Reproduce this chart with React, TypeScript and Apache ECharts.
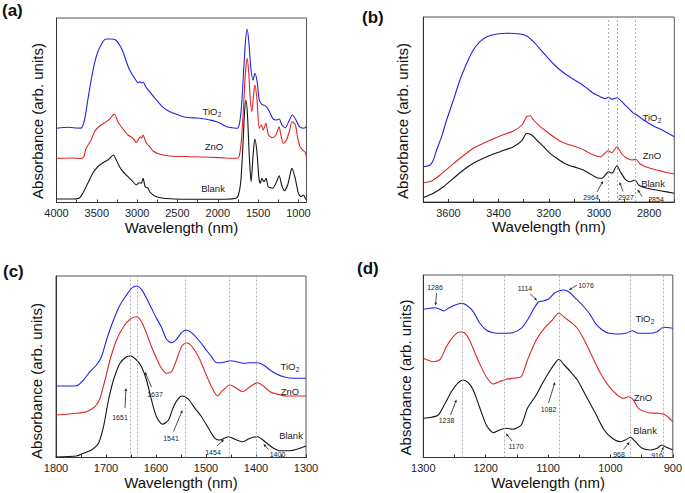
import React, { useEffect, useRef } from "react";
import * as echarts from "echarts";

const FONT = "'Liberation Sans', Arial, Helvetica, sans-serif";
const BLUE = "#2323e0";
const RED = "#e02525";
const BLACK = "#141414";

// ---------- Panel (a): full spectra, [wavelength, absorbance (arb.)] ----------
const aTiO2 = [
  [4000, 74.2], [3850, 75.2], [3750, 74.5], [3695, 74.4], [3653, 82.5], [3612, 102.5], [3570, 122.5],
  [3529, 139.2], [3487, 150.8], [3425, 160.8], [3384, 163.5], [3321, 163.5], [3267, 162.5], [3218, 157.5],
  [3176, 150.8], [3134, 140.8], [3093, 132.5], [3031, 124.2], [2989, 119.8], [2964, 120.8], [2945, 119.5],
  [2927, 120.5], [2894, 115.8], [2844, 110.8], [2761, 102.5], [2678, 95.2], [2595, 90.8], [2512, 88.2],
  [2429, 85.8], [2346, 84.8], [2263, 84.5], [2180, 83.8], [2097, 82.5], [2014, 80.8], [1931, 77.5],
  [1889, 75.8], [1819, 74.8], [1756, 74.2], [1727, 80.8], [1702, 100.8], [1675, 137.5], [1657, 160.8],
  [1637, 173.5], [1615, 160.8], [1590, 134.2], [1562, 122.5], [1541, 129.2], [1512, 120.8], [1486, 102.5],
  [1454, 98.2], [1412, 96.8], [1370, 92.5], [1320, 84.2], [1279, 82.5], [1238, 83.5], [1204, 77.5],
  [1163, 74.8], [1121, 80.8], [1076, 87.5], [1030, 82.5], [988, 75.8], [939, 74.2], [900, 75.8]
];
const aZnO = [
  [4000, 44.2], [3800, 44.5], [3700, 44.0], [3660, 46.0], [3633, 54.2], [3570, 62.5], [3529, 70.8],
  [3466, 76.5], [3404, 79.8], [3342, 83.2], [3300, 87.5], [3280, 88.2], [3238, 80.8], [3197, 75.8],
  [3155, 71.5], [3114, 67.5], [3052, 64.2], [3010, 59.8], [2989, 62.5], [2964, 65.8], [2945, 64.2],
  [2927, 67.5], [2894, 60.8], [2865, 57.5], [2844, 55.8], [2802, 51.5], [2720, 48.2], [2595, 46.5],
  [2346, 45.8], [2097, 45.2], [1900, 44.5], [1756, 44.2], [1727, 49.2], [1702, 67.5], [1675, 104.2],
  [1656, 130.8], [1637, 144.2], [1617, 130.8], [1598, 104.2], [1578, 90.8], [1556, 107.5], [1541, 117.5],
  [1515, 104.2], [1486, 74.2], [1460, 77.5], [1436, 72.5], [1404, 79.2], [1370, 67.5], [1320, 64.8],
  [1279, 67.5], [1240, 75.8], [1217, 67.5], [1188, 59.2], [1154, 61.5], [1113, 70.8], [1080, 80.8],
  [1038, 77.5], [1009, 64.2], [980, 55.8], [947, 52.5], [915, 50.2], [900, 45.0]
];
const aBlank = [
  [4000, 3.5], [3800, 3.5], [3716, 4.5], [3674, 9.2], [3612, 19.2], [3550, 29.2], [3487, 35.8],
  [3425, 39.8], [3363, 42.5], [3321, 45.8], [3292, 47.5], [3259, 42.5], [3218, 35.8], [3176, 30.8],
  [3114, 25.8], [3052, 20.8], [3010, 17.5], [2976, 19.8], [2948, 19.2], [2927, 24.2], [2900, 15.8],
  [2865, 14.2], [2836, 9.8], [2761, 5.8], [2595, 3.8], [2263, 3.2], [1900, 3.3], [1777, 4.2],
  [1744, 7.5], [1715, 20.8], [1690, 54.2], [1668, 90.8], [1651, 102.5], [1632, 87.5], [1610, 47.5],
  [1587, 20.8], [1562, 47.5], [1541, 63.5], [1515, 50.8], [1490, 24.2], [1472, 19.2], [1454, 24.2],
  [1428, 20.8], [1400, 24.2], [1375, 15.8], [1320, 14.2], [1271, 20.8], [1238, 26.8], [1208, 17.5],
  [1175, 11.8], [1134, 17.5], [1100, 29.2], [1082, 34.2], [1040, 24.2], [1000, 9.2], [968, 5.8],
  [939, 7.5], [914, 4.2], [900, 2.5]
];

// ---------- Panel (b): 3700-2700 ----------
const bTiO2 = [
  [3697, 35.3], [3673, 37.0], [3660, 42.0], [3647, 52.0], [3627, 65.3], [3607, 82.0], [3580, 102.0],
  [3554, 122.0], [3527, 138.7], [3501, 152.0], [3474, 160.3], [3447, 165.3], [3407, 168.0], [3367, 168.7],
  [3314, 168.0], [3288, 166.0], [3261, 160.3], [3234, 152.7], [3208, 145.3], [3181, 138.0], [3155, 132.0],
  [3128, 127.0], [3102, 122.7], [3075, 118.7], [3048, 113.7], [3022, 108.7], [2995, 105.3], [2975, 103.3],
  [2962, 104.7], [2949, 102.7], [2929, 104.3], [2909, 100.3], [2889, 95.3], [2862, 88.7], [2849, 87.0],
  [2822, 82.0], [2783, 76.0], [2743, 71.3], [2700, 65.3]
];
const bZnO = [
  [3697, 19.3], [3667, 21.0], [3633, 27.0], [3594, 35.3], [3554, 43.7], [3501, 53.7], [3447, 60.3],
  [3394, 66.0], [3341, 71.0], [3307, 77.0], [3288, 85.3], [3274, 86.3], [3261, 82.0], [3234, 75.3],
  [3208, 70.3], [3181, 65.3], [3155, 61.0], [3128, 58.0], [3102, 56.0], [3075, 53.7], [3048, 50.3],
  [3022, 47.0], [2995, 45.3], [2979, 48.0], [2964, 51.3], [2949, 49.3], [2929, 55.3], [2909, 48.0],
  [2889, 43.7], [2869, 42.0], [2853, 42.7], [2836, 38.0], [2796, 33.7], [2743, 30.3], [2700, 28.0]
];
const bBlank = [
  [3697, 4.7], [3660, 8.7], [3620, 15.3], [3580, 23.7], [3540, 32.0], [3501, 38.7], [3447, 45.3],
  [3394, 50.3], [3341, 55.3], [3307, 61.3], [3288, 68.7], [3268, 67.0], [3248, 62.0], [3221, 55.3],
  [3195, 48.7], [3168, 43.7], [3142, 39.3], [3115, 36.3], [3088, 34.3], [3062, 32.0], [3035, 28.0],
  [3008, 24.3], [2988, 23.7], [2975, 27.0], [2962, 30.3], [2949, 28.7], [2929, 36.3], [2915, 30.3],
  [2895, 22.7], [2876, 20.3], [2856, 22.0], [2842, 17.0], [2809, 13.7], [2756, 11.3], [2700, 8.7]
];

// ---------- Panel (c): 1800-1300 ----------
const cTiO2 = [
  [1800, 71.5], [1759, 71.8], [1745, 77.5], [1732, 85.8], [1719, 92.5], [1709, 100.8], [1699, 117.5],
  [1685, 137.5], [1672, 152.5], [1659, 162.5], [1649, 169.2], [1639, 171.5], [1629, 168.2], [1619, 159.2],
  [1609, 149.2], [1599, 139.2], [1589, 130.2], [1579, 118.2], [1569, 114.8], [1559, 118.2], [1549, 124.8],
  [1539, 127.5], [1529, 124.8], [1515, 117.5], [1502, 109.2], [1489, 100.8], [1479, 94.8], [1469, 94.8],
  [1452, 96.8], [1439, 95.8], [1425, 94.2], [1412, 94.8], [1399, 94.8], [1385, 92.5], [1372, 87.5],
  [1359, 83.5], [1345, 80.8], [1325, 79.2], [1300, 79.2]
];
const cZnO = [
  [1800, 42.5], [1759, 44.2], [1739, 45.8], [1722, 50.8], [1712, 59.2], [1702, 77.5], [1692, 97.5],
  [1679, 117.5], [1665, 130.8], [1652, 138.2], [1639, 140.8], [1629, 135.8], [1619, 124.2], [1609, 110.8],
  [1599, 99.2], [1589, 89.2], [1579, 84.2], [1569, 85.8], [1559, 97.5], [1549, 110.8], [1539, 114.8],
  [1529, 111.5], [1515, 100.8], [1502, 85.8], [1489, 70.8], [1477, 61.5], [1469, 65.8], [1452, 72.5],
  [1439, 69.2], [1427, 65.8], [1412, 70.8], [1397, 74.8], [1385, 71.5], [1372, 65.8], [1359, 63.5],
  [1339, 61.5], [1300, 61.5]
];
const cBlank = [
  [1800, 0.5], [1759, 1.5], [1745, 4.2], [1729, 7.5], [1715, 14.2], [1705, 30.8], [1695, 57.5],
  [1685, 77.5], [1672, 94.2], [1659, 100.8], [1651, 101.5], [1639, 97.5], [1629, 90.8], [1619, 77.5],
  [1609, 57.5], [1599, 40.8], [1587, 33.2], [1575, 37.5], [1565, 50.8], [1555, 59.2], [1547, 61.5],
  [1535, 58.2], [1522, 49.2], [1509, 40.8], [1495, 29.2], [1482, 19.2], [1472, 17.5], [1455, 20.8],
  [1442, 18.2], [1427, 15.8], [1412, 19.2], [1397, 20.8], [1382, 15.8], [1365, 9.2], [1352, 6.8],
  [1332, 6.8], [1300, 11.5]
];

// ---------- Panel (d): 1300-900 ----------
const dTiO2 = [
  [1300, 148.2], [1289, 149.2], [1281, 149.8], [1273, 148.2], [1267, 146.5], [1260, 149.2], [1249, 152.5],
  [1239, 154.2], [1231, 152.5], [1220, 145.8], [1210, 134.8], [1199, 127.5], [1188, 124.8], [1173, 124.2],
  [1157, 124.8], [1143, 129.2], [1133, 137.5], [1122, 149.8], [1115, 155.8], [1108, 156.5], [1099, 158.5],
  [1090, 164.2], [1082, 166.8], [1074, 167.5], [1066, 165.2], [1056, 159.2], [1045, 152.5], [1034, 144.2],
  [1024, 134.2], [1013, 127.5], [1002, 124.2], [987, 123.5], [975, 124.2], [965, 126.8], [955, 124.2],
  [939, 124.2], [925, 125.8], [915, 130.2], [900, 129.2]
];
const dZnO = [
  [1300, 99.2], [1284, 95.8], [1273, 98.2], [1263, 110.8], [1252, 120.8], [1242, 125.5], [1234, 124.8],
  [1226, 117.5], [1218, 105.8], [1210, 94.2], [1199, 80.8], [1188, 73.5], [1178, 75.8], [1167, 78.2],
  [1157, 79.2], [1143, 80.8], [1133, 97.5], [1119, 117.5], [1106, 129.2], [1093, 137.5], [1083, 144.2],
  [1072, 139.2], [1061, 134.2], [1053, 129.2], [1042, 117.5], [1029, 100.8], [1016, 84.2], [1002, 70.8],
  [989, 62.5], [979, 59.2], [971, 60.8], [964, 58.2], [955, 49.2], [939, 44.8], [923, 44.2], [912, 42.5],
  [900, 35.8]
];
const dBlank = [
  [1300, 39.2], [1287, 40.2], [1276, 42.5], [1265, 54.2], [1255, 65.8], [1244, 74.8], [1236, 77.5],
  [1228, 74.8], [1220, 67.5], [1210, 50.8], [1199, 32.5], [1188, 24.8], [1178, 27.5], [1167, 29.2],
  [1157, 28.2], [1143, 32.5], [1133, 49.2], [1119, 62.5], [1109, 74.2], [1098, 85.8], [1087, 95.8],
  [1083, 98.2], [1074, 92.5], [1064, 85.8], [1053, 77.5], [1040, 62.5], [1024, 44.2], [1010, 27.5],
  [997, 19.2], [984, 15.8], [976, 17.5], [968, 20.2], [960, 15.8], [949, 9.2], [936, 7.5], [925, 9.2],
  [918, 12.5], [910, 10.2], [900, 7.5]
];

// ---------- ticks and marked peaks ----------
const aLabels = [1000, 1500, 2000, 2500, 3000, 3500, 4000];
const aTicks = [1000, 1250, 1500, 1750, 2000, 2250, 2500, 2750, 3000, 3250, 3500, 3750, 4000];
const bLabels = [2800, 3000, 3200, 3400, 3600];
const bTicks = [2700, 2800, 2900, 3000, 3100, 3200, 3300, 3400, 3500, 3600, 3700];
const cLabels = [1300, 1400, 1500, 1600, 1700, 1800];
const cTicks = [1300, 1350, 1400, 1450, 1500, 1550, 1600, 1650, 1700, 1750, 1800];
const dLabels = [900, 1000, 1100, 1200, 1300];
const dTicks = [900, 950, 1000, 1050, 1100, 1150, 1200, 1250, 1300];

const bPeaks = [2964, 2927, 2854];
const cPeaks = [1651, 1637, 1541, 1454, 1400];
const dPeaks = [1238, 1170, 1082, 968, 916];
const dTiO2Peaks = [1286, 1114, 1076];

const sampleNames = ["TiO2", "ZnO", "Blank"];
const sampleColors = [BLUE, RED, BLACK];

// ---------- layout ----------
const panels = [
  { letter: "(a)", grid: { left: 56.5, top: 18, width: 250, height: 184.5 }, min: 900, max: 4000, ymax: 184.5,
    labels: aLabels, ticks: aTicks, data: [aTiO2, aZnO, aBlank], peaks: [] as number[],
    letterPos: [2, 10], yName: [37, 121], names: [[212, 111], [214, 146], [213, 188.5]] },
  { letter: "(b)", grid: { left: 423.3, top: 17, width: 251, height: 185 }, min: 2700, max: 3700, ymax: 185,
    labels: bLabels, ticks: bTicks, data: [bTiO2, bZnO, bBlank], peaks: bPeaks,
    letterPos: [362, 17.5], yName: [402, 121], names: [[652, 117], [652, 155], [653, 183]] },
  { letter: "(c)", grid: { left: 56, top: 276, width: 250, height: 181.5 }, min: 1300, max: 1800, ymax: 181.5,
    labels: cLabels, ticks: cTicks, data: [cTiO2, cZnO, cBlank], peaks: cPeaks,
    letterPos: [3, 271], yName: [36.7, 381], names: [[290, 366], [290, 391], [291, 435]] },
  { letter: "(d)", grid: { left: 423.3, top: 275, width: 251, height: 182.5 }, min: 900, max: 1300, ymax: 182.5,
    labels: dLabels, ticks: dTicks, data: [dTiO2, dZnO, dBlank], peaks: dPeaks,
    letterPos: [357, 268], yName: [405, 377.5], names: [[645, 318], [643, 397], [645, 430]] },
];

// annotation layout: [label value, text x, text y, arrow from x, y, arrow to x, y]
const annotations: number[][] = [
  [bPeaks[0], 591, 197, 597, 192, 603, 181],
  [bPeaks[1], 626, 197, 623, 191.5, 619.5, 182],
  [bPeaks[2], 656, 199.5, 642, 196.5, 637.5, 189.5],
  [cPeaks[0], 120, 417.5, 125, 408, 126, 388],
  [cPeaks[1], 155, 394, 151.5, 387, 145, 372],
  [cPeaks[2], 171, 438.5, 173.5, 431.5, 182.5, 410],
  [cPeaks[3], 213, 452, 217, 446, 224, 439.5],
  [cPeaks[4], 277.5, 454.5, 268.5, 449.5, 263.5, 444],
  [dTiO2Peaks[0], 435, 287.5, 436.5, 293, 435.5, 305.5],
  [dTiO2Peaks[1], 525, 288.5, 530, 293.5, 537, 300.5],
  [dTiO2Peaks[2], 586, 285, 577, 285, 569, 290],
  [dPeaks[0], 446.5, 420, 450.5, 415, 456.5, 399.5],
  [dPeaks[2], 548.5, 409, 548.5, 403, 555, 382],
  [dPeaks[1], 516, 446.5, 512, 441, 506, 433.5],
  [dPeaks[3], 619, 454, 623.5, 449.5, 629.5, 442],
  [dPeaks[4], 657, 455, 661, 452.5, 664, 446.5],
];

function arrow(x1: number, y1: number, x2: number, y2: number) {
  const dx = x2 - x1, dy = y2 - y1;
  const L = Math.hypot(dx, dy) || 1;
  const ux = dx / L, uy = dy / L;
  const h = 3, w = 1.4;
  const bx = x2 - ux * h, by = y2 - uy * h;
  return [
    { type: "line", silent: true, shape: { x1, y1, x2: bx, y2: by }, style: { stroke: "#222", lineWidth: 0.8 } },
    { type: "polygon", silent: true, shape: { points: [[x2, y2], [bx - uy * w, by + ux * w], [bx + uy * w, by - ux * w]] }, style: { fill: "#222" } },
  ];
}

function sampleLabel(name: string, cx: number, cy: number) {
  const fs = 9.5;
  if (name === "TiO2") {
    const w = 15.3;
    const x0 = cx - 9.5;
    return [
      { type: "text", silent: true, x: x0, y: cy, style: { text: "TiO", fontSize: fs, fontFamily: FONT, fill: "#222", align: "left", verticalAlign: "middle" } },
      { type: "text", silent: true, x: x0 + w, y: cy + 3, style: { text: "2", fontSize: 6.5, fontFamily: FONT, fill: "#222", align: "left", verticalAlign: "middle" } },
    ];
  }
  return [{ type: "text", silent: true, x: cx, y: cy, style: { text: name, fontSize: fs, fontFamily: FONT, fill: "#222", align: "center", verticalAlign: "middle" } }];
}

export default function App() {
  const ref = useRef<HTMLDivElement>(null);
  useEffect(() => {
    if (!ref.current) return;
    const chart = echarts.init(ref.current, null, { renderer: "svg" });

    const grid = panels.map((p) => ({ ...p.grid, show: true, borderColor: "#555", borderWidth: 1, backgroundColor: "transparent", containLabel: false }));
    const xAxis = panels.map((p, i) => ({
      type: "value", gridIndex: i, min: p.min, max: p.max, inverse: true,
      name: "Wavelength (nm)", nameLocation: "middle", nameGap: 17,
      nameTextStyle: { fontSize: 15, fontFamily: FONT, color: "#111" },
      axisLine: { show: true, onZero: false, lineStyle: { color: "#333", width: 1 } },
      axisTick: { show: true, inside: true, length: 3, customValues: p.ticks, lineStyle: { color: "#333" } },
      axisLabel: { show: true, customValues: p.labels, formatter: (v: number) => String(v), fontSize: 11, fontFamily: FONT, color: "#222", margin: 5 },
      splitLine: { show: false },
    }));
    const yAxis = panels.map((p, i) => ({
      type: "value", gridIndex: i, min: 0, max: p.ymax,
      axisLine: { show: true, lineStyle: { color: "#333", width: 1 } },
      axisTick: { show: false }, axisLabel: { show: false }, splitLine: { show: false },
    }));
    const series: any[] = [];
    panels.forEach((p, i) => {
      p.data.forEach((d, k) => {
        const s: any = {
          type: "line", name: `${p.letter} ${sampleNames[k]}`, xAxisIndex: i, yAxisIndex: i, data: d,
          showSymbol: false, symbol: "none", smooth: 0.25, silent: true, z: 3,
          lineStyle: { color: sampleColors[k], width: 1.1 },
        };
        if (k === 2 && p.peaks.length) {
          s.markLine = {
            silent: true, symbol: ["none", "none"], label: { show: false },
            lineStyle: { color: "#9a9a9a", type: [2, 2], width: 0.8 },
            data: p.peaks.map((v) => ({ xAxis: v })),
          };
        }
        series.push(s);
      });
    });

    const graphic: any[] = [];
    panels.forEach((p) => {
      graphic.push({ type: "text", silent: true, x: p.letterPos[0], y: p.letterPos[1],
        style: { text: p.letter, fontSize: 17, fontWeight: "bold", fontFamily: FONT, fill: "#111", align: "left", verticalAlign: "middle" } });
      graphic.push({ type: "text", silent: true, x: p.yName[0], y: p.yName[1], rotation: Math.PI / 2,
        style: { text: "Absorbance (arb. units)", fontSize: 15, fontFamily: FONT, fill: "#111", align: "center", verticalAlign: "middle" } });
      p.names.forEach((pos, k) => graphic.push(...sampleLabel(sampleNames[k], pos[0], pos[1])));
    });
    annotations.forEach((a) => {
      graphic.push({ type: "text", silent: true, x: a[1], y: a[2],
        style: { text: String(a[0]), fontSize: 7, fontFamily: FONT, fill: "#222", align: "center", verticalAlign: "middle" } });
      graphic.push(...arrow(a[3], a[4], a[5], a[6]));
    });

    chart.setOption({ animation: false, backgroundColor: "#fff", grid, xAxis, yAxis, series, graphic });
    return () => chart.dispose();
  }, []);
  return <div ref={ref} style={{ position: "absolute", left: 0, top: 0, width: 685, height: 493 }} />;
}
